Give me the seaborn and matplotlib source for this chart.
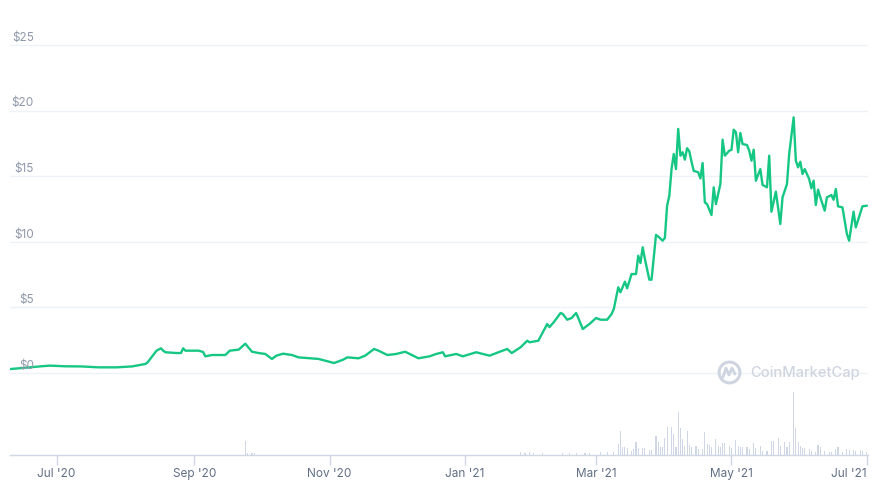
import numpy as np
import pandas as pd
import seaborn as sns
import matplotlib.pyplot as plt
from matplotlib.lines import Line2D

# price (USD)
price_dates = [
    "2020-06-10", "2020-06-17", "2020-06-24", "2020-06-28", "2020-07-05", "2020-07-12",
    "2020-07-20", "2020-07-28", "2020-08-04", "2020-08-10", "2020-08-11", "2020-08-15",
    "2020-08-17", "2020-08-18", "2020-08-19", "2020-08-24", "2020-08-26", "2020-08-27",
    "2020-08-28", "2020-09-03", "2020-09-05", "2020-09-06", "2020-09-09", "2020-09-15",
    "2020-09-17", "2020-09-21", "2020-09-24", "2020-09-27", "2020-09-30", "2020-10-03",
    "2020-10-06", "2020-10-08", "2020-10-11", "2020-10-15", "2020-10-18", "2020-10-27",
    "2020-11-03", "2020-11-07", "2020-11-09", "2020-11-14", "2020-11-17", "2020-11-21",
    "2020-11-23", "2020-11-27", "2020-12-01", "2020-12-05", "2020-12-08", "2020-12-11",
    "2020-12-16", "2020-12-19", "2020-12-22", "2020-12-23", "2020-12-28", "2020-12-31",
    "2021-01-06", "2021-01-09", "2021-01-12", "2021-01-16", "2021-01-20", "2021-01-22",
    "2021-01-26", "2021-01-29", "2021-01-30", "2021-02-03", "2021-02-07", "2021-02-08",
    "2021-02-10", "2021-02-13", "2021-02-14", "2021-02-16", "2021-02-18", "2021-02-20",
    "2021-02-21", "2021-02-23", "2021-02-26", "2021-03-01", "2021-03-03", "2021-03-06",
    "2021-03-08", "2021-03-09", "2021-03-11", "2021-03-12", "2021-03-14", "2021-03-15",
    "2021-03-17", "2021-03-19", "2021-03-20", "2021-03-21", "2021-03-22", "2021-03-23",
    "2021-03-25", "2021-03-26", "2021-03-28", "2021-03-29", "2021-03-31", "2021-04-01",
    "2021-04-02", "2021-04-03", "2021-04-04", "2021-04-05", "2021-04-06", "2021-04-07",
    "2021-04-08", "2021-04-09", "2021-04-10", "2021-04-11", "2021-04-12", "2021-04-13",
    "2021-04-14", "2021-04-16", "2021-04-17", "2021-04-18", "2021-04-19", "2021-04-20",
    "2021-04-22", "2021-04-23", "2021-04-24", "2021-04-26", "2021-04-27", "2021-04-28",
    "2021-04-30", "2021-05-01", "2021-05-02", "2021-05-03", "2021-05-04", "2021-05-05",
    "2021-05-06", "2021-05-08", "2021-05-09", "2021-05-10", "2021-05-11", "2021-05-12",
    "2021-05-14", "2021-05-15", "2021-05-17", "2021-05-18", "2021-05-19", "2021-05-21",
    "2021-05-23", "2021-05-24", "2021-05-26", "2021-05-27", "2021-05-29", "2021-05-30",
    "2021-05-31", "2021-06-01", "2021-06-02", "2021-06-03", "2021-06-05", "2021-06-06",
    "2021-06-07", "2021-06-08", "2021-06-09", "2021-06-10", "2021-06-12", "2021-06-13",
    "2021-06-15", "2021-06-16", "2021-06-17", "2021-06-18", "2021-06-20", "2021-06-22",
    "2021-06-23", "2021-06-25", "2021-06-26", "2021-06-29", "2021-07-01",
]
price_values = [
    0.30, 0.40, 0.51, 0.56, 0.51, 0.50,
    0.43, 0.43, 0.50, 0.69, 0.81, 1.70,
    1.88, 1.70, 1.58, 1.52, 1.52, 1.88,
    1.70, 1.70, 1.60, 1.27, 1.37, 1.37,
    1.70, 1.78, 2.23, 1.62, 1.52, 1.45,
    1.07, 1.32, 1.47, 1.37, 1.19, 1.07,
    0.76, 1.01, 1.19, 1.12, 1.32, 1.83,
    1.70, 1.37, 1.45, 1.62, 1.37, 1.12,
    1.27, 1.45, 1.58, 1.27, 1.45, 1.27,
    1.58, 1.45, 1.32, 1.58, 1.83, 1.52,
    1.96, 2.46, 2.34, 2.46, 3.73, 3.50,
    3.88, 4.57, 4.50, 4.06, 4.19, 4.57,
    4.19, 3.35, 3.73, 4.19, 4.06, 4.06,
    4.50, 4.88, 6.53, 6.15, 6.96, 6.45,
    7.54, 7.54, 8.94, 8.38, 9.58, 8.69,
    7.11, 7.11, 10.52, 10.40, 10.08, 10.30,
    12.75, 13.50, 15.54, 16.69, 15.54, 18.60,
    16.56, 16.82, 16.26, 17.13, 16.90, 16.10,
    15.40, 15.30, 14.83, 16.00, 13.00, 12.87,
    12.04, 14.15, 12.87, 14.40, 17.78, 16.56,
    16.94, 17.00, 18.54, 18.34, 16.82, 18.29,
    17.45, 17.37, 16.94, 16.18, 17.02, 14.65,
    15.54, 14.33, 14.15, 16.56, 12.29, 13.82,
    11.35, 13.39, 14.40, 16.69, 19.48, 16.18,
    15.67, 16.10, 15.16, 15.54, 14.78, 14.07,
    14.65, 12.80, 13.97, 13.39, 12.37, 13.39,
    13.56, 13.20, 14.02, 12.70, 12.62, 10.59,
    10.08, 12.29, 11.10, 12.70, 12.75,
]

# daily volume, relative (no axis shown in the original)
volume_dates = [
    "2020-09-24", "2020-09-25", "2020-09-27", "2020-09-28",
    "2021-01-26", "2021-01-28", "2021-01-30", "2021-02-01", "2021-02-05", "2021-02-14",
    "2021-02-17", "2021-02-20", "2021-02-24", "2021-02-26", "2021-03-03", "2021-03-06",
    "2021-03-09", "2021-03-11", "2021-03-12", "2021-03-13", "2021-03-14", "2021-03-15",
    "2021-03-17", "2021-03-18", "2021-03-19", "2021-03-20", "2021-03-22", "2021-03-23",
    "2021-03-25", "2021-03-26", "2021-03-28", "2021-03-29", "2021-03-30", "2021-03-31",
    "2021-04-01", "2021-04-02", "2021-04-04", "2021-04-05", "2021-04-06", "2021-04-07",
    "2021-04-08", "2021-04-09", "2021-04-10", "2021-04-11", "2021-04-12", "2021-04-13",
    "2021-04-15", "2021-04-16", "2021-04-18", "2021-04-19", "2021-04-20", "2021-04-21",
    "2021-04-22", "2021-04-24", "2021-04-25", "2021-04-26", "2021-04-27", "2021-04-28",
    "2021-04-30", "2021-05-01", "2021-05-03", "2021-05-04", "2021-05-05", "2021-05-06",
    "2021-05-08", "2021-05-09", "2021-05-11", "2021-05-12", "2021-05-14", "2021-05-15",
    "2021-05-17", "2021-05-19", "2021-05-20", "2021-05-22", "2021-05-23", "2021-05-25",
    "2021-05-26", "2021-05-27", "2021-05-29", "2021-05-30", "2021-05-31", "2021-06-01",
    "2021-06-02", "2021-06-03", "2021-06-05", "2021-06-06", "2021-06-08", "2021-06-09",
    "2021-06-10", "2021-06-12", "2021-06-14", "2021-06-15", "2021-06-17", "2021-06-18",
    "2021-06-20", "2021-06-22", "2021-06-23", "2021-06-25", "2021-06-26", "2021-06-28",
    "2021-06-29", "2021-07-01",
]
volume_values = [
    140, 25, 20, 20,
    27, 25, 27, 25, 20, 20,
    20, 20, 20, 20, 27, 27,
    27, 110, 240, 77, 77, 70,
    43, 60, 127, 67, 67, 67,
    53, 53, 190, 130, 77, 77,
    167, 277, 277, 210, 77, 433,
    267, 160, 93, 243, 100, 77,
    87, 60, 60, 233, 110, 100,
    77, 160, 87, 77, 120, 120,
    87, 67, 153, 87, 77, 77,
    77, 60, 120, 67, 87, 43,
    43, 143, 143, 167, 93, 127,
    77, 127, 633, 267, 133, 87,
    67, 67, 60, 43, 33, 100,
    77, 43, 33, 27, 60, 77,
    33, 60, 53, 53, 43, 53,
    43, 33,
]

price_ticks = [0, 5, 10, 15, 20, 25]
price_labels = ["$0", "$5", "$10", "$15", "$20", "$25"]
date_ticks = ["2020-07-01", "2020-09-01", "2020-11-01", "2021-01-01",
              "2021-03-01", "2021-05-01", "2021-07-01"]
date_labels = ["Jul '20", "Sep '20", "Nov '20", "Jan '21", "Mar '21", "May '21", "Jul '21"]

price = pd.DataFrame({"date": pd.to_datetime(price_dates), "price": price_values})
volume = pd.DataFrame({"date": pd.to_datetime(volume_dates), "volume": volume_values})

sns.set_theme(style="white")
plt.rcParams["font.family"] = ["Inter", "DejaVu Sans"]

W, H = 874, 485
fig = plt.figure(figsize=(W / 100, H / 100), dpi=100, facecolor="white")
ax = fig.add_axes([10 / W, (H - 456) / H, 858 / W, 456 / H])
ax2 = ax.twinx()

# volume bars, behind the price line
ax2.bar(volume["date"], volume["volume"], width=0.5, color="#cfd6e4", linewidth=0)
ax2.set_ylim(0, 4560)
ax2.set_yticks([])
for s in ax2.spines.values():
    s.set_visible(False)

ax.set_zorder(ax2.get_zorder() + 1)
ax.patch.set_visible(False)

sns.lineplot(data=price, x="date", y="price", ax=ax, color="#16c784", linewidth=1.7)

ax.set_xlim(pd.Timestamp("2020-06-10"), pd.Timestamp("2021-07-01 12:00"))
ax.set_ylim(-6.25, 28.5)
ax.set_xlabel("")
ax.set_ylabel("")

ax.set_yticks(price_ticks)
ax.yaxis.grid(True, color="#eef1f5", linewidth=1)
ax.xaxis.grid(False)
ax.tick_params(axis="y", left=False, labelleft=False)
for v, lab in zip(price_ticks, price_labels):
    ax.annotate(lab, xy=(0.028, v), xycoords=ax.get_yaxis_transform(),
                xytext=(0, 1.5), textcoords="offset points",
                ha="right", va="bottom", fontsize=8.5, color="#8f98aa")

ax.set_xticks(pd.to_datetime(date_ticks), date_labels)
ax.tick_params(axis="x", bottom=True, direction="out", length=7, width=1,
               color="#cfd6e4", pad=2, labelsize=8.5, labelcolor="#616e85")
ax.get_xticklabels()[-1].set_horizontalalignment("right")

for side in ["top", "left", "right"]:
    ax.spines[side].set_visible(False)
ax.spines["bottom"].set_color("#cfd6e4")
ax.spines["bottom"].set_linewidth(1)

# CoinMarketCap watermark
wm = "#cfd5e0"
fig.add_artist(Line2D([729 / W], [1 - 373 / H], marker="o", markersize=15,
                      markerfacecolor="none", markeredgecolor=wm, markeredgewidth=2.2))
mx = np.array([723, 726, 729, 732, 735]) / W
my = 1 - np.array([378, 369, 376, 369, 375]) / H
fig.add_artist(Line2D(mx, my, color=wm, linewidth=2))
fig.text(750 / W, 1 - 373 / H, "CoinMarketCap", fontsize=10.6, color=wm,
         ha="left", va="center", fontweight="medium")

fig.savefig("out.png", dpi=100, facecolor="white")
